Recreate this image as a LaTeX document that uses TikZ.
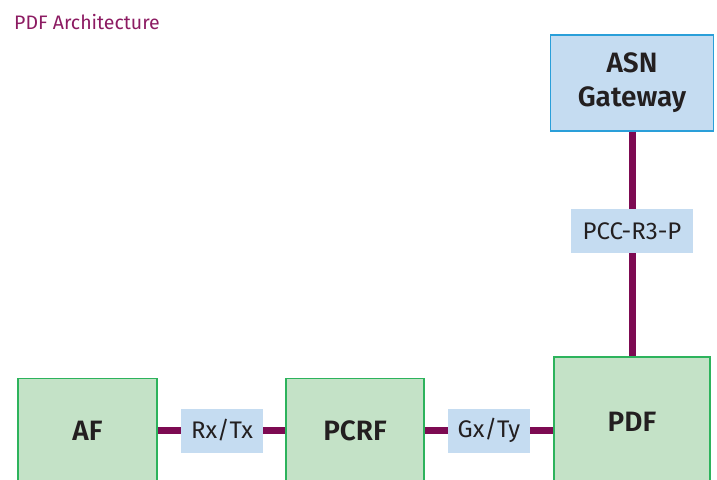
\documentclass[tikz,border=0pt]{standalone}
\usepackage{fontspec}
\setmainfont{Fira Sans}[BoldFont={Fira Sans SemiBold}]
\usetikzlibrary{positioning}
\definecolor{boxgreen}{HTML}{C4E2C7}
\definecolor{edgegreen}{HTML}{2DB35C}
\definecolor{boxblue}{HTML}{C5DCF1}
\definecolor{edgeblue}{HTML}{2A9FD9}
\definecolor{linkpurple}{HTML}{7D0A52}
\definecolor{titlepurple}{HTML}{8C1B62}
\definecolor{inkgray}{HTML}{231F20}

\begin{document}
\begin{tikzpicture}[x=1pt, y=-1pt, text=inkgray,
  entity/.style={draw=edgegreen, fill=boxgreen, line width=1.6pt, align=center, inner sep=0pt,
    font=\fontsize{28}{34}\selectfont\bfseries},
  gateway/.style={entity, draw=edgeblue, fill=boxblue},
  iface/.style={fill=boxblue, inner sep=0pt, minimum height=44, font=\fontsize{24}{28}\selectfont},
  link/.style={draw=linkpurple, line width=7pt}]
	\clip (0,0) rectangle (717,479);
	\useasboundingbox (0,0) rectangle (717,479);
	\node[anchor=base west, inner sep=0pt, text=titlepurple, font=\fontsize{19.5}{22}\selectfont] (title) at (14,29) {PDF Architecture};
	% main boxes
	\node (AF) [entity, minimum width=139, minimum height=104] at (87.5,430.5) {AF};
	\node (PCRF) [entity, minimum width=138, minimum height=104] at (355,430.5) {PCRF};
	\node (PDF) [entity, minimum width=156, minimum height=130] at (632,422) {PDF};
	\node (ASN) [gateway, minimum width=163, minimum height=96] at (632,83) {ASN\\Gateway};
	% interfaces
	\node (RxTx) [iface, minimum width=82] at (222,430.5) {Rx/Tx};
	\node (GxTy) [iface, minimum width=82] at (489,430.5) {Gx/Ty};
	\node (PCC) [iface, minimum width=122] at (632,231) {PCC-R3-P};
	% links
	\draw[link] (AF.east) -- (RxTx.west);
	\draw[link] (RxTx.east) -- (PCRF.west);
	\draw[link] (PCRF.east) -- (GxTy.west);
	\draw[link] (GxTy.east) -- (PDF.west |- GxTy.east);
	\draw[link] (ASN.south) -- (PCC.north);
	\draw[link] (PCC.south) -- (PDF.north);
\end{tikzpicture}
\end{document}
